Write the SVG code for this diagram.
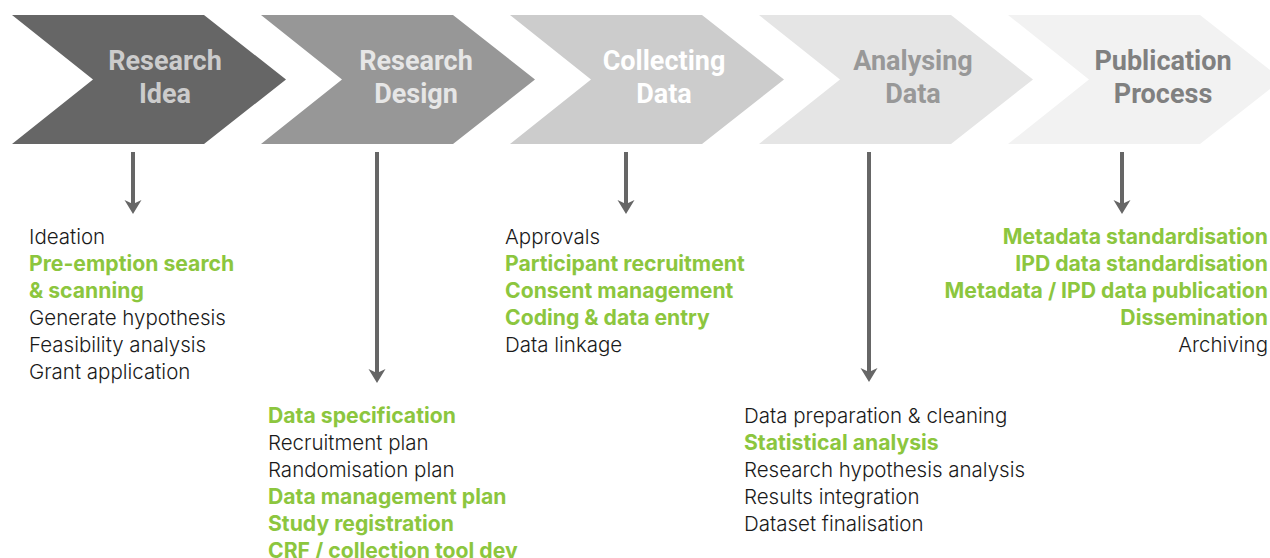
<svg xmlns="http://www.w3.org/2000/svg" width="1270" height="558" viewBox="0 0 1270 558">
  <style>
    .stage text { font-family: Roboto, "Liberation Sans", sans-serif; font-weight: 700; font-size: 27px; text-anchor: middle; }
    .item { font-family: Inter, Roboto, "Liberation Sans", sans-serif; font-size: 20.5px; font-weight: 300; fill: #1a1a1a; }
    .key { font-weight: 700; font-size: 21.2px; fill: #8cc63e; }
    .conn { stroke: #666666; stroke-width: 4; fill: none; }
  </style>
  <defs>
    <!-- chevron body: notch at x=81, shoulder at x=192, tip at x=274 -->
    <polygon id="chev" points="0,15 192,15 274,79.5 192,144 0,144 81,79.5"/>
    <marker id="head" markerUnits="userSpaceOnUse" markerWidth="16" markerHeight="18" refX="8" refY="8.5" orient="auto" overflow="visible">
      <path d="M0,0 L14,8.5 L0,17 L4,8.5 Z" fill="#666666"/>
    </marker>
  </defs>
  <rect width="1270" height="558" fill="#ffffff"/>

  <!-- process stages -->
  <g id="stage-idea" class="stage">
    <use href="#chev" x="12" fill="#666666"/>
    <text x="165" y="70" fill="#cccccc">Research</text>
    <text x="165" y="103" fill="#cccccc">Idea</text>
  </g>
  <g id="stage-design" class="stage">
    <use href="#chev" x="261" fill="#979797"/>
    <text x="416" y="70" fill="#e6e6e6">Research</text>
    <text x="416" y="103" fill="#e6e6e6">Design</text>
  </g>
  <g id="stage-collect" class="stage">
    <use href="#chev" x="510" fill="#cccccc"/>
    <text x="664" y="70" fill="#ffffff">Collecting</text>
    <text x="664" y="103" fill="#ffffff">Data</text>
  </g>
  <g id="stage-analyse" class="stage">
    <use href="#chev" x="759" fill="#e5e5e5"/>
    <text x="913" y="70" fill="#989898">Analysing</text>
    <text x="913" y="103" fill="#989898">Data</text>
  </g>
  <g id="stage-publish" class="stage">
    <use href="#chev" x="1008" fill="#f2f2f2"/>
    <text x="1163" y="70" fill="#808080">Publication</text>
    <text x="1163" y="103" fill="#808080">Process</text>
  </g>

  <!-- connectors from each stage to its task list -->
  <g id="connectors">
    <line class="conn" x1="133" y1="152" x2="133" y2="208" marker-end="url(#head)"/>
    <line class="conn" x1="377" y1="152" x2="377" y2="377" marker-end="url(#head)"/>
    <line class="conn" x1="626" y1="152" x2="626" y2="208" marker-end="url(#head)"/>
    <line class="conn" x1="869" y1="152" x2="869" y2="376" marker-end="url(#head)"/>
    <line class="conn" x1="1122" y1="152" x2="1122" y2="208" marker-end="url(#head)"/>
  </g>

  <!-- task lists -->
  <g id="tasks-idea" class="item">
    <text x="29" y="244">Ideation</text>
    <text x="29" y="271" class="key">Pre-emption search</text>
    <text x="29" y="298" class="key">&amp; scanning</text>
    <text x="29" y="325">Generate hypothesis</text>
    <text x="29" y="352">Feasibility analysis</text>
    <text x="29" y="379">Grant application</text>
  </g>
  <g id="tasks-design" class="item">
    <text x="268" y="423" class="key">Data specification</text>
    <text x="268" y="450">Recruitment plan</text>
    <text x="268" y="477">Randomisation plan</text>
    <text x="268" y="504" class="key">Data management plan</text>
    <text x="268" y="531" class="key">Study registration</text>
    <text x="268" y="558" class="key">CRF / collection tool dev</text>
  </g>
  <g id="tasks-collect" class="item">
    <text x="505" y="244">Approvals</text>
    <text x="505" y="271" class="key">Participant recruitment</text>
    <text x="505" y="298" class="key">Consent management</text>
    <text x="505" y="325" class="key">Coding &amp; data entry</text>
    <text x="505" y="352">Data linkage</text>
  </g>
  <g id="tasks-analyse" class="item">
    <text x="744" y="423">Data preparation &amp; cleaning</text>
    <text x="744" y="450" class="key">Statistical analysis</text>
    <text x="744" y="477">Research hypothesis analysis</text>
    <text x="744" y="504">Results integration</text>
    <text x="744" y="531">Dataset finalisation</text>
  </g>
  <g id="tasks-publish" class="item" text-anchor="end">
    <text x="1268" y="244" class="key">Metadata standardisation</text>
    <text x="1268" y="271" class="key">IPD data standardisation</text>
    <text x="1268" y="298" class="key">Metadata / IPD data publication</text>
    <text x="1268" y="325" class="key">Dissemination</text>
    <text x="1268" y="352">Archiving</text>
  </g>
</svg>
